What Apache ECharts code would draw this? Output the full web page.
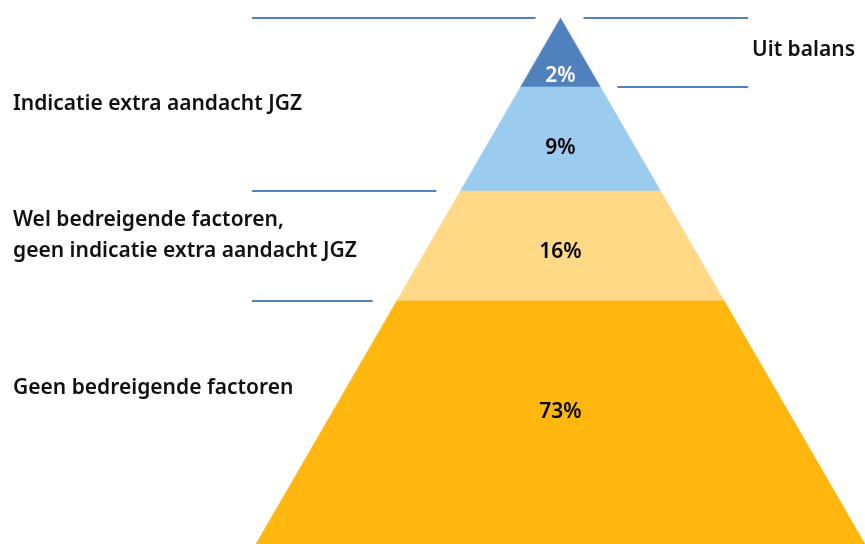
<!DOCTYPE html>
<html><head><meta charset="utf-8">
<script src="https://cdn.jsdelivr.net/npm/echarts@6/dist/echarts.min.js"></script>
<style>html,body{margin:0;padding:0;background:#fff}#c{width:865px;height:544px}</style>
</head><body><div id="c"></div>
<script>
// Data (top to bottom of the pyramid)
var segmentNames = ['Uit balans', 'Indicatie extra aandacht JGZ', 'Wel bedreigende factoren,\ngeen indicatie extra aandacht JGZ', 'Geen bedreigende factoren'];
var segmentValues = [2, 9, 16, 73];
var valueLabels = ['2%', '9%', '16%', '73%'];
// depth of each band's lower edge, as a share of the pyramid height
var segmentDepths = [0.131, 0.329, 0.538, 1.0];

// Styles
var segmentColors = ['#4F81BD', '#9BCBEF', '#FFD985', '#FFB60F'];
var labelColors = ['#ffffff', '#000000', '#000000', '#000000'];
var labelFrac = [0.81, 0.57, 0.54, 0.45];
var FONT = '"Noto Sans", sans-serif';

var bounds = [0].concat(segmentDepths);
var segData = segmentValues.map(function (v, i) { return [i, bounds[i], bounds[i + 1], v]; });

// separator lines: [boundaryIndex, side(-1 left, 1 right), outerPixelX, gap]
var sepData = [[0, -1, 252, 25], [0, 1, 748, 23], [1, 1, 748, 17], [2, -1, 252, 24], [3, -1, 252, 24]];

// side labels: [text, x, centerY]
var sideLabels = [
  [segmentNames[0], 752, 50],
  [segmentNames[1], 13, 104],
  [segmentNames[2], 13, 236],
  [segmentNames[3], 13, 388]
];

var chart = echarts.init(document.getElementById('c'), null, { renderer: 'canvas' });
chart.setOption({
  animation: false,
  grid: { left: 256, right: -1, top: 18, bottom: 0 },
  xAxis: { type: 'value', min: -1, max: 1, show: false },
  yAxis: { type: 'value', min: 0, max: 1, inverse: true, show: false },
  series: [
    {
      type: 'custom',
      data: segData,
      encode: { x: -1, y: [1, 2] },
      renderItem: function (params, api) {
        var i = api.value(0), t0 = api.value(1), t1 = api.value(2);
        var p1 = api.coord([-t0, t0]), p2 = api.coord([t0, t0]);
        var p3 = api.coord([t1, t1]), p4 = api.coord([-t1, t1]);
        var ly = p1[1] + (p4[1] - p1[1]) * labelFrac[i] + 2;
        var cx = api.coord([0, 0])[0];
        return {
          type: 'group',
          children: [
            { type: 'polygon', shape: { points: [p1, p2, p3, p4] }, style: { fill: segmentColors[i], stroke: segmentColors[i], lineWidth: 0.5 } },
            { type: 'text', x: cx, y: ly, style: { text: valueLabels[i], fill: labelColors[i], font: '600 21px ' + FONT, align: 'center', verticalAlign: 'middle' } }
          ]
        };
      }
    },
    {
      type: 'custom',
      data: sepData,
      renderItem: function (params, api) {
        var b = api.value(0), side = api.value(1), outer = api.value(2), gap = api.value(3);
        var t = bounds[b];
        var edge = api.coord([side * t, t]);
        var inner = edge[0] + side * gap;
        return { type: 'line', shape: { x1: outer, y1: edge[1], x2: inner, y2: edge[1] }, style: { stroke: '#4F81BD', lineWidth: 2 } };
      }
    }
  ],
  graphic: sideLabels.map(function (s) {
    return { type: 'text', x: s[1], y: s[2], style: { text: s[0], font: '600 21px ' + FONT, lineHeight: 31, fill: '#111', verticalAlign: 'middle' } };
  })
});
</script></body></html>
